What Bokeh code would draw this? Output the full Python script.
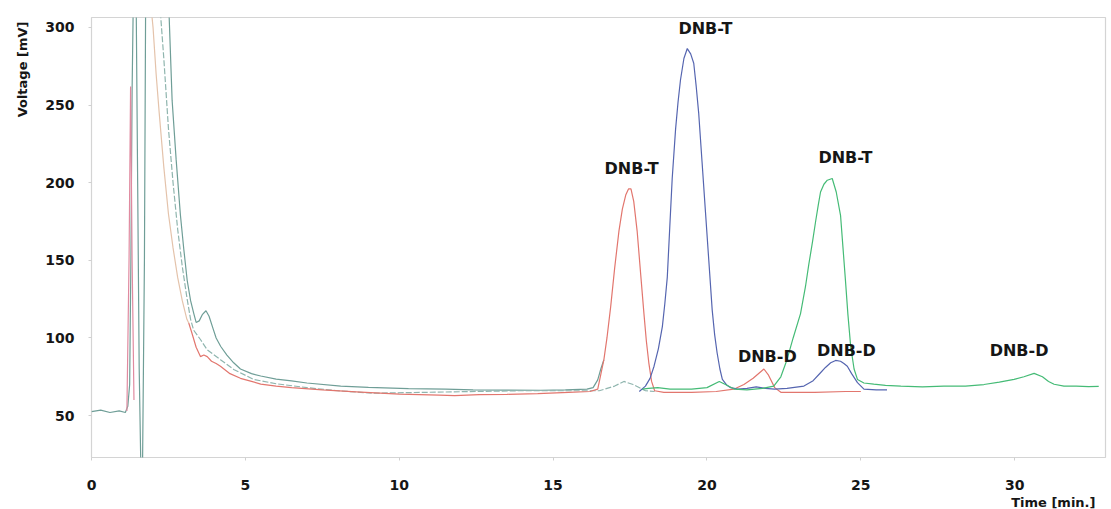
from bokeh.plotting import figure
from bokeh.models import Range1d, Label, FixedTicker, Title
from bokeh.embed import file_html
from bokeh.resources import INLINE

# ---------------- data ----------------
x_ticks = [0, 5, 10, 15, 20, 25, 30]
y_ticks = [50, 100, 150, 200, 250, 300]

# teal trace (solvent front, baseline rising into first peak)
teal_t = [0.0, 0.3, 0.6, 0.9, 1.1, 1.18, 1.24, 1.28, 1.32, 1.36, 1.45, 1.5, 1.55, 1.6, 1.66, 1.72, 1.76,
          2.5, 2.62, 2.75, 2.89, 3.0, 3.11, 3.22, 3.32, 3.4, 3.5, 3.6, 3.72, 3.82, 3.95, 4.05, 4.2, 4.4,
          4.62, 4.84, 5.2, 5.5, 6.0, 6.5, 7.0, 8.1, 9.0, 10.3, 11.5, 12.4, 13.5, 14.6, 15.4, 16.1, 16.3,
          16.45, 16.55, 16.65]
teal_v = [52.5, 53.5, 52.0, 53.0, 52.0, 56.0, 70.0, 150.0, 260.0, 320.0, 320.0, 200.0, 80.0, 21.0, 21.0,
          150.0, 320.0, 320.0, 253.0, 215.0, 179.0, 157.0, 137.0, 124.0, 116.0, 110.0, 111.0, 115.0,
          117.5, 114.0, 106.0, 100.0, 94.5, 89.0, 84.0, 80.0, 77.0, 75.5, 73.5, 72.3, 71.0, 69.0, 68.2,
          67.4, 67.0, 66.5, 66.4, 66.3, 66.5, 67.0, 68.0, 73.0, 80.0, 86.0]

# second teal trace (middle decay, small bump near 17.3 min)
teal2_t = [2.2, 2.35, 2.5, 2.65, 2.8, 2.95, 3.1, 3.22, 3.32, 3.54, 3.76, 4.19, 4.62, 5.27, 6.0, 7.0,
           8.0, 9.17, 10.3, 11.5, 12.7, 13.9, 15.0, 16.0, 16.5, 17.0, 17.3, 17.6, 18.0, 18.3]
teal2_v = [320.0, 280.0, 235.0, 200.0, 170.0, 146.0, 126.0, 112.0, 105.0, 99.0, 92.4, 86.0, 79.7, 73.3,
           70.5, 68.0, 66.0, 64.4, 64.8, 65.2, 65.6, 66.0, 66.0, 66.0, 66.0, 69.0, 72.0, 70.0, 66.0, 65.5]

# pale spike and beige front of the red run
spike_t = [1.15, 1.22, 1.27, 1.32, 1.38]
spike_v = [53.0, 150.0, 262.0, 150.0, 60.0]
beige_t = [1.6, 1.9, 2.0, 2.1, 2.2, 2.35, 2.5, 2.65, 2.8, 2.95, 3.1, 3.16]
beige_v = [320.0, 320.0, 300.0, 270.0, 245.0, 210.0, 180.0, 158.0, 139.0, 124.0, 112.0, 109.6]

# red trace (DNB-T at 17.5 min, DNB-D near 21.8 min)
red_t = [3.16, 3.25, 3.4, 3.54, 3.65, 3.76, 3.9, 4.05, 4.19, 4.5, 4.84, 5.2, 5.5, 6.0, 6.5, 7.5, 8.6,
         10.0, 11.3, 11.8, 12.6, 13.5, 14.5, 15.5, 16.2, 16.45, 16.65, 16.75, 16.87, 17.0, 17.14, 17.25,
         17.36, 17.45, 17.53, 17.62, 17.73, 17.85, 17.95, 18.03, 18.11, 18.2, 18.3, 18.6, 19.5, 20.3,
         20.87, 21.2, 21.5, 21.85, 22.0, 22.2, 22.4, 23.5, 24.5, 25.0]
red_v = [109.6, 104.0, 94.0, 88.0, 89.0, 88.0, 85.0, 83.5, 81.8, 77.0, 74.0, 72.0, 70.3, 69.0, 68.0,
         66.5, 65.3, 63.8, 63.2, 62.8, 63.5, 63.7, 64.2, 65.0, 65.5, 67.0, 86.0, 100.0, 120.0, 145.0,
         169.0, 183.0, 192.0, 196.0, 196.0, 188.0, 169.0, 140.0, 116.0, 98.0, 84.0, 72.0, 66.0, 65.0,
         65.0, 65.5, 67.0, 70.0, 74.0, 80.0, 76.0, 68.0, 65.0, 65.0, 65.5, 65.5]

# blue trace (DNB-T at 19.4 min, DNB-D at 24.2 min)
blue_t = [17.8, 18.0, 18.15, 18.28, 18.42, 18.55, 18.63, 18.71, 18.79, 18.87, 18.98, 19.06, 19.14,
          19.25, 19.36, 19.47, 19.57, 19.65, 19.73, 19.84, 19.95, 20.06, 20.17, 20.25, 20.33, 20.42,
          20.5, 20.65, 20.77, 21.0, 21.3, 21.6, 21.9, 22.2, 22.6, 23.15, 23.45, 23.69, 23.85, 24.02,
          24.18, 24.34, 24.45, 24.56, 24.7, 24.89, 25.1, 25.5, 25.85]
blue_v = [65.5, 69.0, 74.0, 81.8, 93.0, 107.3, 122.0, 139.0, 171.0, 202.7, 234.5, 252.0, 266.3, 280.0,
          286.4, 283.0, 276.9, 262.0, 245.0, 213.3, 181.5, 149.7, 117.9, 102.0, 90.3, 80.0, 73.3, 69.5,
          68.0, 67.0, 67.5, 68.5, 67.5, 67.0, 67.5, 69.0, 72.5, 77.6, 81.0, 84.0, 85.5, 85.0, 83.5, 81.8,
          77.0, 71.2, 67.0, 66.5, 66.5]

# green trace (DNB-T at 24.0 min, DNB-D at 30.6 min)
green_t = [17.9, 18.1, 18.4, 18.8, 19.5, 20.0, 20.4, 20.6, 20.9, 21.3, 21.8, 22.17, 22.4, 22.6, 22.8,
           23.04, 23.2, 23.31, 23.43, 23.53, 23.62, 23.69, 23.8, 23.91, 24.07, 24.2, 24.34, 24.42, 24.5,
           24.58, 24.67, 24.78, 24.89, 25.1, 25.42, 25.8, 26.3, 27.0, 27.7, 28.4, 29.0, 29.5, 29.98,
           30.3, 30.63, 30.9, 31.1, 31.28, 31.6, 32.0, 32.4, 32.73]
green_v = [67.0, 67.5, 68.0, 67.0, 67.0, 68.0, 72.0, 70.0, 67.0, 66.5, 67.5, 69.0, 75.0, 86.0, 100.0,
           115.7, 133.0, 147.5, 162.0, 175.0, 186.0, 194.0, 199.0, 201.6, 202.7, 194.0, 179.0, 158.0,
           137.0, 115.0, 94.5, 80.0, 73.3, 71.0, 70.2, 69.5, 69.0, 68.5, 69.0, 69.0, 70.0, 71.5, 73.3,
           75.0, 77.2, 75.0, 72.0, 70.2, 69.0, 69.0, 68.6, 68.8]

# peak annotations
peak_text = ["DNB-T", "DNB-T", "DNB-T", "DNB-D", "DNB-D", "DNB-D"]
peak_t = [17.55, 19.95, 24.5, 21.96, 24.53, 30.14]
peak_v = [208.9, 299.0, 216.5, 88.0, 91.8, 91.8]

x_title = "Time [min.]"
y_title = "Voltage [mV]"

# ---------------- figure ----------------
FONT = "DejaVu Sans"
INK = "#161616"

p = figure(width=1111, height=509, x_range=Range1d(0, 32.95), y_range=Range1d(23, 306.4),
           output_backend="svg", toolbar_location=None,
           min_border_left=91, min_border_right=6, min_border_top=17, min_border_bottom=47)
p.background_fill_color = "white"
p.border_fill_color = "white"
p.outline_line_color = "#d4d4d4"
p.outline_line_width = 1.2
p.xgrid.visible = False
p.ygrid.visible = False

for ax in (p.xaxis, p.yaxis):
    ax.axis_line_color = None
    ax.major_tick_line_color = "#d0d0d0"
    ax.minor_tick_line_color = None
    ax.major_tick_in = 0
    ax.major_tick_out = 3
    ax.major_label_text_font = FONT
    ax.major_label_text_font_style = "bold"
    ax.major_label_text_font_size = "14px"
    ax.major_label_text_color = INK

p.xaxis.ticker = FixedTicker(ticks=x_ticks)
p.yaxis.ticker = FixedTicker(ticks=y_ticks)
p.xaxis.major_label_standoff = 19
p.yaxis.major_label_standoff = 14

# axis titles as side-panel titles (left one near the top, bottom one at the right end)
p.add_layout(Title(text=y_title, align="right", vertical_align="bottom", offset=4, standoff=25,
                   text_font=FONT, text_font_style="bold", text_font_size="13px",
                   text_color=INK), "left")
p.add_layout(Title(text=x_title, align="right", vertical_align="bottom", offset=10, standoff=0,
                   text_font=FONT, text_font_style="bold", text_font_size="13px",
                   text_color=INK), "below")

lw = 1.2
p.line(teal_t, teal_v, line_color="#6f9e97", line_width=lw)
p.line(teal2_t, teal2_v, line_color="#8fb5ae", line_width=lw, line_dash="6 2")
p.line(spike_t, spike_v, line_color="#e08aa0", line_width=lw)
p.line(beige_t, beige_v, line_color="#e4c3ab", line_width=lw)
p.line(red_t, red_v, line_color="#e2766e", line_width=lw)
p.line(blue_t, blue_v, line_color="#5565b0", line_width=lw)
p.line(green_t, green_v, line_color="#45bb76", line_width=lw)

for txt, tx, ty in zip(peak_text, peak_t, peak_v):
    p.add_layout(Label(x=tx, y=ty, text=txt, text_font=FONT, text_font_style="bold",
                       text_font_size="16px", text_color=INK,
                       text_align="center", text_baseline="middle"))

open("out.html", "w").write(file_html(p, INLINE))
